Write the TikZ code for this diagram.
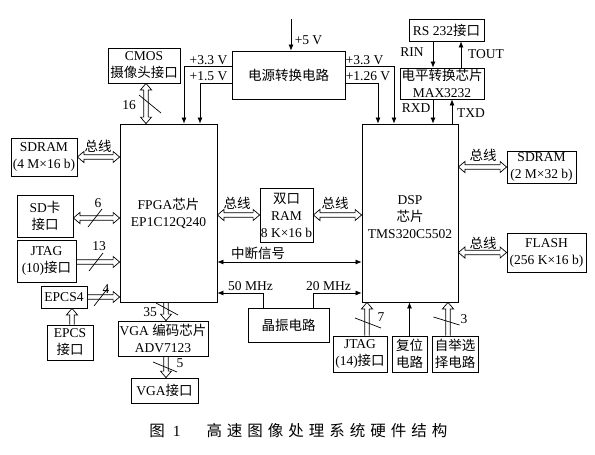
\documentclass[tikz,border=0pt]{standalone}
\usepackage{fontspec}
\setmainfont{Liberation Serif}
\newfontfamily\zhf{Noto Sans CJK SC}
\newcommand{\zh}[1]{{\zhf #1}}
\newcommand{\fs}{\fontsize{13.5}{17}\selectfont}
\usetikzlibrary{arrows.meta,calc}
\newcommand{\hpt}[2]{({\x1+(#1)*(\n2)-(#2)*(\n3)},{\y1+(#1)*(\n3)+(#2)*(\n2)})}
\tikzset{
  hdbl/.style={line width=0.7pt, to path={
    let \p1=(\tikztostart), \p2=(\tikztotarget),
        \n1={veclen(\x2-\x1,\y2-\y1)},
        \n2={(\x2-\x1)/\n1}, \n3={(\y2-\y1)/\n1}
    in \hpt{0}{0} -- \hpt{6.5}{5.5} -- \hpt{6.5}{2.3} -- \hpt{\n1-6.5}{2.3} -- \hpt{\n1-6.5}{5.5}
       -- \hpt{\n1}{0} -- \hpt{\n1-6.5}{-5.5} -- \hpt{\n1-6.5}{-2.3} -- \hpt{6.5}{-2.3} -- \hpt{6.5}{-5.5} -- cycle
  }},
  hsgl/.style={line width=0.7pt, to path={
    let \p1=(\tikztostart), \p2=(\tikztotarget),
        \n1={veclen(\x2-\x1,\y2-\y1)},
        \n2={(\x2-\x1)/\n1}, \n3={(\y2-\y1)/\n1}
    in \hpt{0}{2.3} -- \hpt{\n1-6.5}{2.3} -- \hpt{\n1-6.5}{5.5}
       -- \hpt{\n1}{0} -- \hpt{\n1-6.5}{-5.5} -- \hpt{\n1-6.5}{-2.3} -- \hpt{0}{-2.3}
  }},
}
\begin{document}
\begin{tikzpicture}[x=1pt,y=-1pt,
  box/.style={draw, line width=0.8pt, align=center, font=\fs, inner sep=0pt},
  lbl/.style={font=\fs, inner sep=0pt},
  ln/.style={line width=0.7pt},
  arr/.style={ln, -{Latex[length=6pt,width=5pt]}},
  darr/.style={ln, {Latex[length=6pt,width=5pt]}-{Latex[length=6pt,width=5pt]}},
  slash/.style={line width=0.7pt}
]
\useasboundingbox (0,0) rectangle (595,455);

% boxes
\node[box, minimum width=72pt, minimum height=35pt] (cmos) at (144,65.5) {CMOS\\\zh{摄像头接口}};
\node[box, minimum width=113pt, minimum height=48pt] (power) at (288.5,75) {\zh{电源转换电路}};
\node[box, minimum width=97pt, minimum height=178pt] (fpga) at (168.5,213) {FPGA\zh{芯片}\\EP1C12Q240};
\node[box, minimum width=66pt, minimum height=38pt] (sdramL) at (44,157) {SDRAM\\(4 M×16 b)};
\node[box, minimum width=56pt, minimum height=42pt] (sdcard) at (45,216) {SD\zh{卡}\\\zh{接口}};
\node[box, minimum width=59pt, minimum height=42pt] (jtag10) at (46.5,261) {JTAG\\(10)\zh{接口}};
\node[box, minimum width=46pt, minimum height=22pt] (epcs4) at (64,297) {EPCS4};
\node[box, minimum width=46pt, minimum height=35pt] (epcs) at (70,342.5) {EPCS\\\zh{接口}};
\node[box, minimum width=90pt, minimum height=35pt] (vgaenc) at (163,338.5) {VGA \zh{编码芯片}\\ADV7123};
\node[box, minimum width=67pt, minimum height=25pt] (vgaport) at (164.5,390.5) {VGA\zh{接口}};
\node[box, minimum width=53pt, minimum height=54pt] (ram) at (286.5,215) {\zh{双口}\\RAM\\8 K×16 b};
\node[box, minimum width=81pt, minimum height=34pt] (crystal) at (288.5,325) {\zh{晶振电路}};
\node[box, minimum width=96pt, minimum height=178pt] (dsp) at (410,213) {};
\node[lbl, align=center, font=\fs] (dsptxt) at (410,217.5) {DSP\\\zh{芯片}\\TMS320C5502};
\node[box, minimum width=69pt, minimum height=32pt] (sdramR) at (541.5,167) {SDRAM\\(2 M×32 b)};
\node[box, minimum width=79pt, minimum height=39pt] (flash) at (546.5,252.5) {FLASH\\(256 K×16 b)};
\node[box, minimum width=75pt, minimum height=22pt] (rs232) at (446.5,30) {RS 232\zh{接口}};
\node[box, minimum width=84pt, minimum height=31pt] (maxchip) at (442,83.5) {\zh{电平转换芯片}\\MAX3232};
\node[box, minimum width=54pt, minimum height=36pt] (jtag14) at (360,354) {JTAG\\(14)\zh{接口}};
\node[box, minimum width=35pt, minimum height=36pt] (reset) at (409.5,354) {\zh{复位}\\\zh{电路}};
\node[box, minimum width=46pt, minimum height=36pt] (boot) at (455,354) {\zh{自举选}\\\zh{择电路}};

% power
\coordinate (v5) at (291,19);
\draw[arr] (v5) -- (v5 |- power.north);
\node[lbl] (l5) at (308.5,40) {+5 V};
\coordinate (p33L) at ([yshift=9pt]power.west);
\coordinate (p15L) at ([yshift=-8pt]power.west);
\coordinate (f33) at ([xshift=15.5pt]fpga.north);
\coordinate (f15) at ([xshift=31.5pt]fpga.north);
\draw[arr] (p33L) -| (f33);
\draw[arr] (p15L) -| (f15);
\node[lbl] (l33L) at (208.5,60) {+3.3 V};
\node[lbl] (l15L) at (208.5,76.5) {+1.5 V};
\coordinate (p33R) at ([yshift=9pt]power.east);
\coordinate (p126R) at ([yshift=-8pt]power.east);
\coordinate (d33) at ([xshift=-16pt]dsp.north);
\coordinate (d126) at ([xshift=-32pt]dsp.north);
\draw[arr] (p33R) -| (d33);
\draw[arr] (p126R) -| (d126);
\node[lbl] (l33R) at (364.5,60) {+3.3 V};
\node[lbl] (l126R) at (368,76.5) {+1.26 V};

% RS232 / MAX3232
\coordinate (rin) at ([xshift=-13.5pt]rs232.south);
\coordinate (tout) at ([xshift=14.5pt]rs232.south);
\draw[arr] (rin) -- (rin |- maxchip.north);
\draw[arr] (tout |- maxchip.north) -- (tout);
\node[lbl] (lrin) at (412,52) {RIN};
\node[lbl] (ltout) at (486,54) {TOUT};
\coordinate (rxd) at ([xshift=-9pt]maxchip.south);
\coordinate (txd) at ([xshift=10pt]maxchip.south);
\draw[arr] (rxd) -- (rxd |- dsp.north);
\draw[arr] (txd |- dsp.north) -- (txd);
\node[lbl] (lrxd) at (416,108) {RXD};
\node[lbl] (ltxd) at (471,113) {TXD};

% CMOS bus
\coordinate (c16) at ([xshift=2pt]cmos.south);
\draw[hdbl] (c16) to (c16 |- fpga.north);
\coordinate (s16) at (150,104);
\draw[slash] ([shift={(-11,-9)}]s16) -- ([shift={(11,9)}]s16);
\node[lbl] (l16) at (129,105) {16};

% left buses
\draw[hdbl] (sdramL.east) to (sdramL.east -| fpga.west);
\node[lbl] (lbusL) at (98,146) {\zh{总线}};
\coordinate (sdA) at ([yshift=-2pt]sdcard.east);
\draw[hdbl] (sdA) to (sdA -| fpga.west);
\coordinate (s6) at (95,218);
\draw[slash] ([shift={(-7,9)}]s6) -- ([shift={(7,-9)}]s6);
\node[lbl] (l6) at (98,203) {6};
\coordinate (jtA) at ([yshift=-1pt]jtag10.east);
\draw[hsgl] (jtA) to (jtA -| fpga.west);
\coordinate (s13) at (96,262);
\draw[slash] ([shift={(-7,9)}]s13) -- ([shift={(7,-9)}]s13);
\node[lbl] (l13) at (99,246) {13};
\draw[hsgl] (epcs4.east) to (epcs4.east -| fpga.west);
\coordinate (s4) at (101,297);
\draw[slash] ([shift={(-7,9)}]s4) -- ([shift={(7,-9)}]s4);
\node[lbl] (l4) at (106,289) {4};
\coordinate (epA) at ([xshift=2pt]epcs.north);
\draw[hsgl] (epA) to (epA |- epcs4.south);

% VGA
\coordinate (vgA) at ([xshift=3pt]vgaenc.north);
\draw[hsgl] (vgA |- fpga.south) to (vgA);
\coordinate (s35) at (167,309);
\draw[slash] ([shift={(-11,-6)}]s35) -- ([shift={(11,6)}]s35);
\node[lbl] (l35) at (150,312) {35};
\coordinate (vpA) at ([xshift=1.5pt]vgaport.north);
\draw[hsgl] (vpA |- vgaenc.south) to (vpA);
\coordinate (s5) at (165,367);
\draw[slash] ([shift={(-12,-5)}]s5) -- ([shift={(12,5)}]s5);
\node[lbl] (l5b) at (180,363) {5};

% RAM buses
\draw[hdbl] (ram.west -| fpga.east) to (ram.west);
\node[lbl] (lbusR1) at (237,203) {\zh{总线}};
\draw[hdbl] (ram.east) to (ram.east -| dsp.west);
\node[lbl] (lbusR2) at (335,203) {\zh{总线}};

% interrupt
\coordinate (intL) at ([yshift=-49pt]fpga.east);
\draw[darr] (intL) -- (intL -| dsp.west);
\node[lbl] (lint) at (258,253) {\zh{中断信号}};

% clocks
\coordinate (c50) at ([xshift=-25.5pt]crystal.north);
\coordinate (c20) at ([xshift=24.5pt]crystal.north);
\coordinate (f50) at ([yshift=-80pt]fpga.east);
\coordinate (d20) at ([yshift=-80pt]dsp.west);
\draw[arr] (c50) |- (f50);
\draw[arr] (c20) |- (d20);
\node[lbl] (l50) at (250.5,286) {50 MHz};
\node[lbl] (l20) at (328.5,286) {20 MHz};

% right buses
\draw[hdbl] (dsp.east |- sdramR.west) to (sdramR.west);
\node[lbl] (lbusR3) at (483,155) {\zh{总线}};
\draw[hdbl] (dsp.east |- flash.west) to (flash.west);
\node[lbl] (lbusR4) at (483,243) {\zh{总线}};

% bottom DSP
\coordinate (jt14) at ([xshift=7pt]jtag14.north);
\draw[hsgl] (jt14) to (jt14 |- dsp.south);
\coordinate (s7) at (368,323);
\draw[slash] ([shift={(-13,-5)}]s7) -- ([shift={(13,5)}]s7);
\node[lbl] (l7) at (381,317) {7};
\draw[arr] (reset.north) -- (reset.north |- dsp.south);
\coordinate (bt) at ([xshift=-7pt]boot.north);
\draw[hsgl] (bt) to (bt |- dsp.south);
\coordinate (s3) at (446.5,321);
\draw[slash] ([shift={(-13,-4)}]s3) -- ([shift={(13,4)}]s3);
\node[lbl] (l3) at (464,319) {3};

% caption
\node[inner sep=0pt, font=\fontsize{15.5}{18}\selectfont] (cap1) at (165,431) {\zh{图}\hspace{8pt}1};
\node[inner sep=0pt, font=\fontsize{15.5}{18}\selectfont] (cap2) at (327,431) {\zh{高\hspace{5pt}速\hspace{5pt}图\hspace{5pt}像\hspace{5pt}处\hspace{5pt}理\hspace{5pt}系\hspace{5pt}统\hspace{5pt}硬\hspace{5pt}件\hspace{5pt}结\hspace{5pt}构}};
\end{tikzpicture}
\end{document}
